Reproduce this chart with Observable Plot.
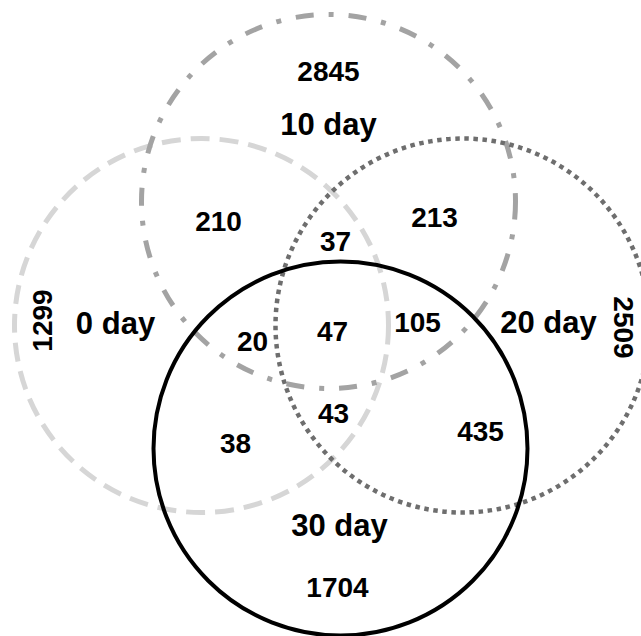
<!DOCTYPE html>
<html>
<head>
<meta charset="utf-8">
<script src="https://cdn.jsdelivr.net/npm/d3@7"></script>
<script src="https://cdn.jsdelivr.net/npm/@observablehq/plot@0.6"></script>
<style>
  html, body { margin: 0; padding: 0; background: #fff; overflow: hidden; }
  #chart svg { display: block; }
</style>
</head>
<body>
<div id="chart"></div>
<script>
// ---- data ----
const setNames = ["0 day", "10 day", "20 day", "30 day"];
const regionKeys = ["0", "10", "20", "30", "0&10", "10&20", "0&10&20", "0&10&30", "0&10&20&30", "10&20&30", "0&20&30", "0&30", "20&30"];
const regionCounts = [1299, 2845, 2509, 1704, 210, 213, 37, 20, 47, 105, 43, 38, 435];

// ---- layout (diagram coordinates, mapped through Plot scales) ----
const W = 641, H = 636, R = 187;
const setLayout = {
  "0 day":  {cx: 201, cy: 325, lx: 115, ly: 324, stroke: "#d6d6d6", dash: "19,10", sw: 5},
  "10 day": {cx: 328, cy: 201, lx: 328, ly: 125, stroke: "#a3a3a3", dash: "18,15,5,15", sw: 5},
  "20 day": {cx: 462, cy: 325, lx: 548, ly: 323, stroke: "#6e6e6e", dash: "4.5,4.6", sw: 4.5},
  "30 day": {cx: 340, cy: 448, lx: 339, ly: 526, stroke: "#000000", dash: null, sw: 4}
};
const regionLayout = {
  "0": [43, 320, -90], "10": [328, 72, 0], "20": [622, 327, 90], "30": [337, 588, 0],
  "0&10": [218, 222, 0], "10&20": [434, 218, 0], "0&10&20": [335, 242, 0],
  "0&10&30": [252, 342, 0], "0&10&20&30": [332, 332, 0], "10&20&30": [417, 323, 0],
  "0&20&30": [333, 414, 0], "0&30": [235, 444, 0], "20&30": [480, 432, 0]
};

const sets = setNames.map(name => ({name, ...setLayout[name]}));
const regions = regionKeys.map((k, i) => ({
  key: k, count: regionCounts[i],
  x: regionLayout[k][0], y: regionLayout[k][1], rotate: regionLayout[k][2]
}));

const font = "'Liberation Sans', Arial, Helvetica, sans-serif";

const circleMarks = sets.map(s => Plot.dot([s], {
  x: "cx", y: "cy", r: R,
  fill: "none", stroke: s.stroke, strokeWidth: s.sw,
  strokeDasharray: s.dash || undefined,
  clip: true
}));

const chart = Plot.plot({
  width: W, height: H,
  margin: 0,
  x: {domain: [0, W], range: [0, W], axis: null},
  y: {domain: [0, H], range: [0, H], axis: null},
  style: {background: "#fff", fontFamily: font},
  marks: [
    ...circleMarks,
    Plot.text(regions, {
      x: "x", y: "y", text: d => String(d.count), rotate: "rotate",
      fontSize: 28, fontWeight: "bold", fill: "#000", fontFamily: font
    }),
    Plot.text(sets, {
      x: "lx", y: "ly", text: "name",
      fontSize: 31, fontWeight: "bold", fill: "#000", fontFamily: font
    })
  ]
});
document.getElementById("chart").appendChild(chart);
</script>
</body>
</html>
